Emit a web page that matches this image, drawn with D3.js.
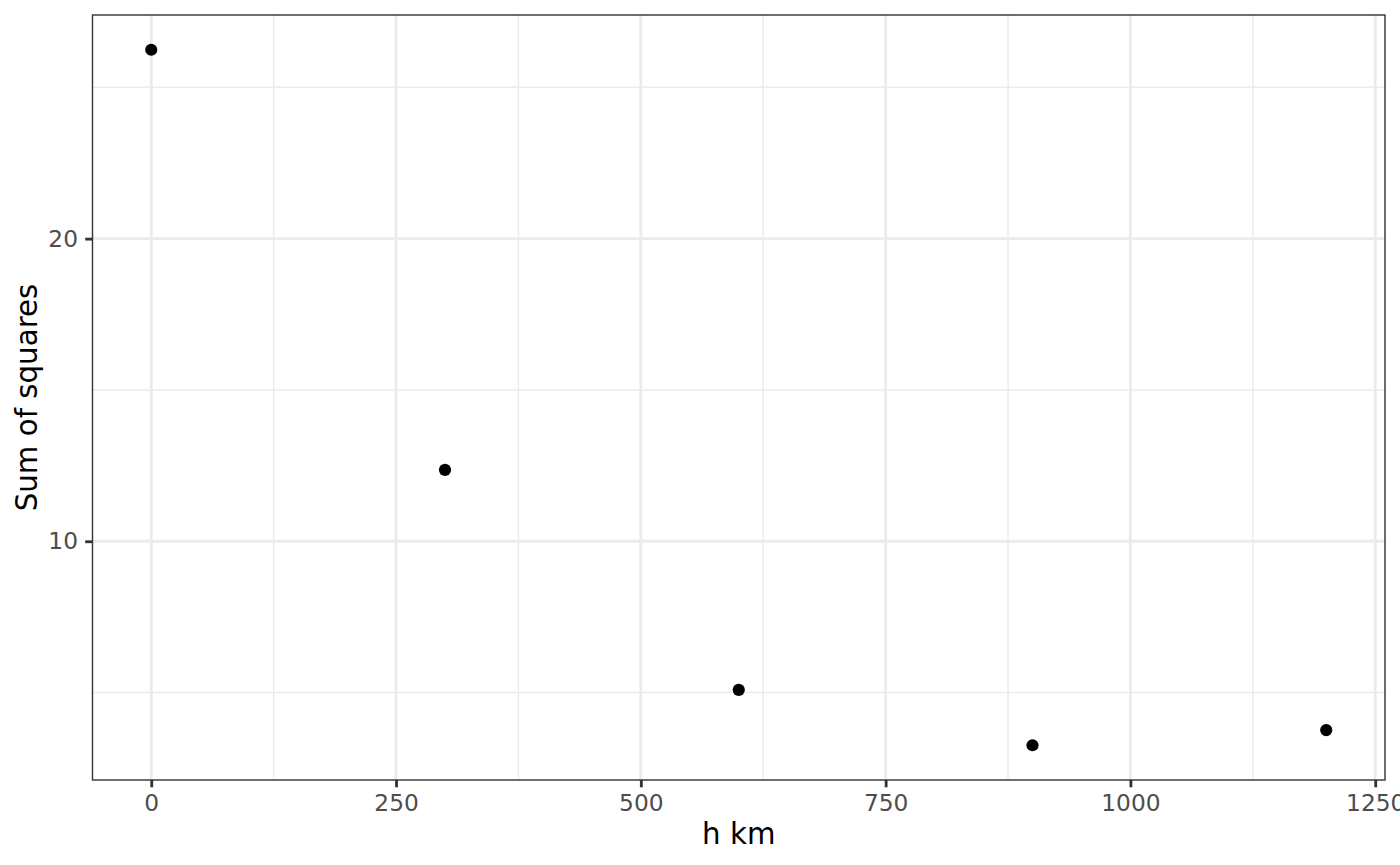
<!DOCTYPE html>
<html>
<head>
<meta charset="utf-8">
<script src="https://cdn.jsdelivr.net/npm/d3@7"></script>
<style>
  html, body { margin: 0; padding: 0; background: #fff; }
  svg { display: block; font-family: "DejaVu Sans", sans-serif; }
</style>
</head>
<body>
<svg id="chart" width="1400" height="865"></svg>
<script>
// Data
const hKm = [0, 300, 600, 900, 1200];
const sumSquares = [26.24, 12.36, 5.09, 3.26, 3.76];

const xMajorTicks = [0, 250, 500, 750, 1000, 1250];
const xMinorTicks = [125, 375, 625, 875, 1125];
const yMajorTicks = [10, 20];
const yMinorTicks = [5, 15, 25];

const xTitle = 'h km';
const yTitle = 'Sum of squares';

const W = 1400, H = 865;
const MARGIN = { top: 15, right: 15, bottom: 85, left: 92.5 };
const PW = W - MARGIN.left - MARGIN.right;
const PH = H - MARGIN.top - MARGIN.bottom;

const svg = d3.select('#chart');
svg.append('rect').attr('width', W).attr('height', H).attr('fill', '#fff');

// ggplot-style 5% expansion
const expand = (lo, hi) => { const p = (hi - lo) * 0.05; return [lo - p, hi + p]; };

const x = d3.scaleLinear()
  .domain(expand(d3.min(hKm), d3.max(hKm)))
  .range([0, PW]);

const y = d3.scaleLinear()
  .domain(expand(d3.min(sumSquares), d3.max(sumSquares)))
  .range([PH, 0]);

const g = svg.append('g').attr('transform', `translate(${MARGIN.left},${MARGIN.top})`);

// Minor grid
g.selectAll('.xminor').data(xMinorTicks).enter().append('line')
  .attr('x1', d => x(d)).attr('x2', d => x(d)).attr('y1', 0).attr('y2', PH)
  .attr('stroke', '#EBEBEB').attr('stroke-width', 1.42);
g.selectAll('.yminor').data(yMinorTicks).enter().append('line')
  .attr('x1', 0).attr('x2', PW).attr('y1', d => y(d)).attr('y2', d => y(d))
  .attr('stroke', '#EBEBEB').attr('stroke-width', 1.42);

// Major grid
g.selectAll('.xmajor').data(xMajorTicks).enter().append('line')
  .attr('x1', d => x(d)).attr('x2', d => x(d)).attr('y1', 0).attr('y2', PH)
  .attr('stroke', '#EBEBEB').attr('stroke-width', 2.84);
g.selectAll('.ymajor').data(yMajorTicks).enter().append('line')
  .attr('x1', 0).attr('x2', PW).attr('y1', d => y(d)).attr('y2', d => y(d))
  .attr('stroke', '#EBEBEB').attr('stroke-width', 2.84);

// Points
g.selectAll('.pt').data(hKm).enter().append('circle')
  .attr('cx', d => x(d))
  .attr('cy', (d, i) => y(sumSquares[i]))
  .attr('r', 6.1)
  .attr('fill', '#000');

// Axes
const xAxis = g.append('g').attr('transform', `translate(0,${PH})`)
  .call(d3.axisBottom(x).tickValues(xMajorTicks).tickSize(7.3).tickPadding(6.5).tickFormat(d3.format('d')));
const yAxis = g.append('g')
  .call(d3.axisLeft(y).tickValues(yMajorTicks).tickSize(7.3).tickPadding(7.2).tickFormat(d3.format('d')));

[xAxis, yAxis].forEach(a => {
  a.select('.domain').remove();
  a.selectAll('.tick line').attr('stroke', '#333333').attr('stroke-width', 2.84);
  a.selectAll('.tick text')
    .attr('fill', '#4D4D4D')
    .style('font-family', '"DejaVu Sans", sans-serif')
    .style('font-size', '23.3px');
});
xAxis.selectAll('.tick text').attr('dy', '0.73em');

// Panel border
g.append('rect')
  .attr('width', PW).attr('height', PH)
  .attr('fill', 'none').attr('stroke', '#333333').attr('stroke-width', 1.4);

// Axis titles
svg.append('text')
  .attr('x', MARGIN.left + PW / 2)
  .attr('y', 844.3)
  .attr('text-anchor', 'middle')
  .style('font-size', '29.3px')
  .attr('fill', '#000')
  .text(xTitle);

svg.append('text')
  .attr('transform', `translate(36.7,${MARGIN.top + PH / 2}) rotate(-90)`)
  .attr('text-anchor', 'middle')
  .style('font-size', '29.3px')
  .attr('fill', '#000')
  .text(yTitle);
</script>
</body>
</html>
